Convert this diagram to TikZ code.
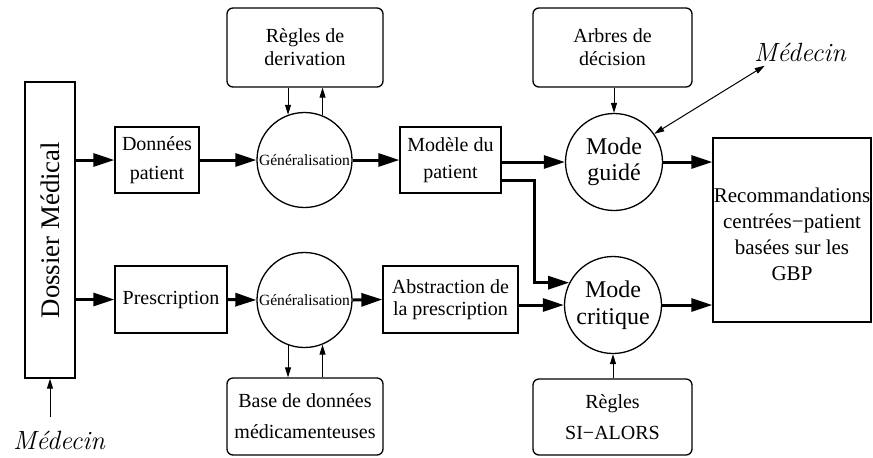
\documentclass[tikz,border=0pt]{standalone}
\usepackage{fontspec}
\setmainfont{Liberation Serif}
\newfontfamily\lmfont{Latin Modern Roman}
\usetikzlibrary{arrows.meta}
\tikzset{
  px/.style={x=0.5pt,y=-0.5pt},
  boxline/.style={draw,line width=0.65pt,inner sep=0pt,align=center},
  sqbox/.style={boxline,rectangle},
  rbox/.style={boxline,rectangle,rounded corners=3pt},
  circ/.style={boxline,circle},
  bigarr/.style={line width=1.5pt,-{Triangle[length=10.5pt,width=6.5pt]}},
  thinarr/.style={line width=0.5pt,-{Triangle[length=5pt,width=3pt]}},
  dblarr/.style={line width=0.5pt,{Triangle[length=5pt,width=3pt]}-{Triangle[length=5pt,width=3pt]}},
  doctor/.style={inner sep=0pt,font=\lmfont\itshape\fontsize{13.2}{15}\selectfont},
}
\begin{document}
\begin{tikzpicture}[px]
\useasboundingbox (0,0) rectangle (873,457);
% nodes
\node[sqbox,minimum width=25pt,minimum height=148pt] (dossier) at (50,230)
  {\rotatebox{90}{\fontsize{13.4}{16}\selectfont Dossier Médical}};
\node[sqbox,minimum width=42pt,minimum height=33pt,font=\fontsize{10}{14.5}\selectfont] (donnees) at (157,160) {Données\\patient};
\node[circ,minimum size=47.5pt,font=\fontsize{7.8}{9}\selectfont] (gen1) at (304.5,160) {Généralisation};
\node[rbox,minimum width=78pt,minimum height=39.5pt,font=\fontsize{10}{11.5}\selectfont] (regles) at (305,47.5) {Règles de\\derivation};
\node[sqbox,minimum width=50.5pt,minimum height=33pt,font=\fontsize{10}{13.5}\selectfont] (modele) at (450.5,160) {Modèle du\\patient};
\node[circ,minimum size=48.5pt,font=\fontsize{12}{13}\selectfont] (guide) at (614,162) {Mode\\guidé};
\node[rbox,minimum width=79.5pt,minimum height=39.5pt,font=\fontsize{10}{11.5}\selectfont] (arbres) at (612.5,47.5) {Arbres de\\décision};
\node[sqbox,minimum width=79pt,minimum height=92pt,font=\fontsize{10.5}{13}\selectfont] (reco) at (792,230)
  {\raisebox{-3pt}[\height][\depth]{\begin{tabular}{@{}c@{}}Recommandations\\centrées−patient\\basées sur les\\GBP\end{tabular}}};
\node[circ,minimum size=48.5pt,font=\fontsize{12}{13.5}\selectfont] (critique) at (613,305) {Mode\\critique};
\node[sqbox,minimum width=56pt,minimum height=33.5pt,font=\fontsize{10}{12}\selectfont] (prescription) at (171,299.5) {Prescription};
\node[circ,minimum size=47.5pt,font=\fontsize{7.8}{9}\selectfont] (gen2) at (304.5,300) {Généralisation};
\node[rbox,minimum width=78pt,minimum height=38.5pt,font=\fontsize{10}{15.5}\selectfont] (base) at (305,416.5) {Base de données\\médicamenteuses};
\node[sqbox,minimum width=67.5pt,minimum height=33.5pt,font=\fontsize{10}{11}\selectfont] (abstraction) at (450.5,299.5) {Abstraction de\\la prescription};
\node[rbox,minimum width=79.5pt,minimum height=38pt,font=\fontsize{10}{15.5}\selectfont] (si) at (612.5,417) {Règles\\SI−ALORS};
\node[doctor] (medecin1) at (59,440) {Médecin};
\node[doctor] (medecin2) at (800,52) {Médecin};
% connectors
\draw[bigarr] (donnees.west -| dossier.east) -- (donnees.west);
\draw[bigarr] (prescription.west -| dossier.east) -- (prescription.west);
\draw[bigarr] (donnees.east) -- (gen1.west);
\draw[bigarr] (gen1.east) -- (modele.west);
\draw[bigarr] (guide.west -| modele.east) -- (guide.west);
\draw[bigarr] (guide.east) -- (guide.east -| reco.west);
\draw[bigarr] ([yshift=-10pt]modele.east) -| ([xshift=-17.5pt]critique.153) -- (critique.153);
\draw[bigarr] (prescription.east) -- (gen2.west);
\draw[bigarr] (gen2.east) -- (abstraction.west);
\draw[bigarr] (critique.west -| abstraction.east) -- (critique.west);
\draw[bigarr] (critique.east) -- (critique.east -| reco.west);
\draw[thinarr] (regles.south -| gen1.110) -- (gen1.110);
\draw[thinarr] (gen1.68) -- (regles.south -| gen1.68);
\draw[thinarr] (gen2.250) -- (base.north -| gen2.250);
\draw[thinarr] (base.north -| gen2.292) -- (gen2.292);
\draw[thinarr] (guide.north |- arbres.south) -- (guide.north);
\draw[thinarr] (critique.south |- si.north) -- (critique.south);
\draw[thinarr] ([yshift=6.5pt]medecin1.north -| dossier.south) -- (dossier.south);
\draw[dblarr] (guide.35) -- ([xshift=5.5pt,yshift=-2pt]medecin2.south west);
\end{tikzpicture}
\end{document}
